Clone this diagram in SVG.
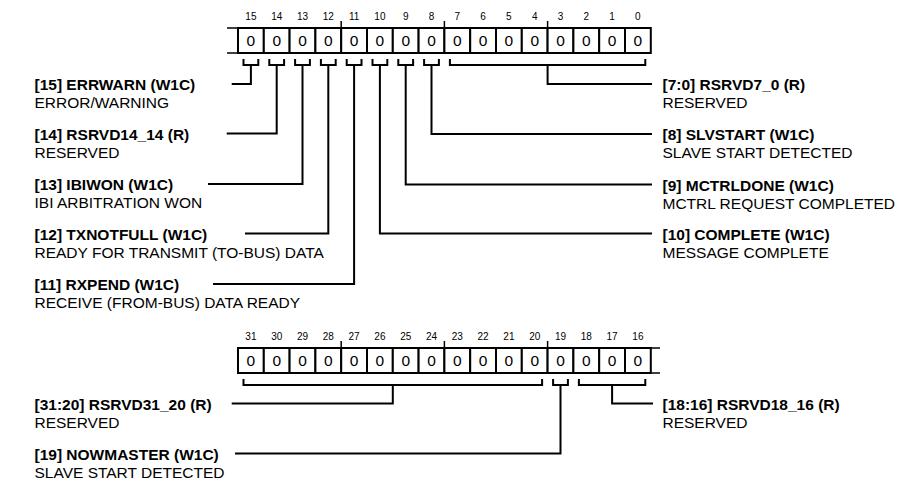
<svg xmlns="http://www.w3.org/2000/svg" width="898" height="481" viewBox="0 0 898 481">
<style>
  .bg{fill:#fff}
  .bit{fill:#fff;stroke:#000;stroke-width:2}
  .stub{stroke:#000;stroke-width:1.5;fill:none}
  .tick{stroke:#000;stroke-width:1.5}
  .val{font-family:"Liberation Sans",Arial,sans-serif;font-size:15.5px;text-anchor:middle;fill:#000}
  .num{font-family:"Liberation Sans",Arial,sans-serif;font-size:10px;text-anchor:middle;fill:#000}
  .b{font-family:"Liberation Sans",Arial,sans-serif;font-size:15.5px;font-weight:bold;fill:#000}
  .r{font-family:"Liberation Sans",Arial,sans-serif;font-size:15.5px;fill:#000}
  .c{stroke:#000;stroke-width:2;fill:none}
</style>
<defs>
  <g id="cell"><rect class="bit" x="0" y="0" width="25.8" height="25"/><text class="val" x="12.9" y="18">0</text></g>
</defs>
<rect class="bg" x="0" y="0" width="898" height="481"/>

<g id="reg_top">
  <line class="stub" x1="227" y1="28" x2="238" y2="28"/>
  <line class="stub" x1="227" y1="53" x2="238" y2="53"/>
  <line class="tick" x1="341.2" y1="21" x2="341.2" y2="28"/>
  <line class="tick" x1="444.4" y1="21" x2="444.4" y2="28"/>
  <line class="tick" x1="547.6" y1="21" x2="547.6" y2="28"/>
  <g transform="translate(238,28)"><use href="#cell"/></g>
  <g transform="translate(263.8,28)"><use href="#cell"/></g>
  <g transform="translate(289.6,28)"><use href="#cell"/></g>
  <g transform="translate(315.4,28)"><use href="#cell"/></g>
  <g transform="translate(341.2,28)"><use href="#cell"/></g>
  <g transform="translate(367,28)"><use href="#cell"/></g>
  <g transform="translate(392.8,28)"><use href="#cell"/></g>
  <g transform="translate(418.6,28)"><use href="#cell"/></g>
  <g transform="translate(444.4,28)"><use href="#cell"/></g>
  <g transform="translate(470.2,28)"><use href="#cell"/></g>
  <g transform="translate(496,28)"><use href="#cell"/></g>
  <g transform="translate(521.8,28)"><use href="#cell"/></g>
  <g transform="translate(547.6,28)"><use href="#cell"/></g>
  <g transform="translate(573.4,28)"><use href="#cell"/></g>
  <g transform="translate(599.2,28)"><use href="#cell"/></g>
  <g transform="translate(625,28)"><use href="#cell"/></g>
  <text class="num" x="250.9" y="20">15</text>
  <text class="num" x="276.7" y="20">14</text>
  <text class="num" x="302.5" y="20">13</text>
  <text class="num" x="328.3" y="20">12</text>
  <text class="num" x="354.1" y="20">11</text>
  <text class="num" x="379.9" y="20">10</text>
  <text class="num" x="405.7" y="20">9</text>
  <text class="num" x="431.5" y="20">8</text>
  <text class="num" x="457.3" y="20">7</text>
  <text class="num" x="483.1" y="20">6</text>
  <text class="num" x="508.9" y="20">5</text>
  <text class="num" x="534.7" y="20">4</text>
  <text class="num" x="560.5" y="20">3</text>
  <text class="num" x="586.3" y="20">2</text>
  <text class="num" x="612.1" y="20">1</text>
  <text class="num" x="637.9" y="20">0</text>
</g>

<g id="reg_bottom">
  <line class="stub" x1="650.8" y1="348" x2="660" y2="348"/>
  <line class="stub" x1="650.8" y1="373" x2="660" y2="373"/>
  <line class="tick" x1="341.2" y1="341" x2="341.2" y2="348"/>
  <line class="tick" x1="444.4" y1="341" x2="444.4" y2="348"/>
  <line class="tick" x1="547.6" y1="341" x2="547.6" y2="348"/>
  <g transform="translate(238,348)"><use href="#cell"/></g>
  <g transform="translate(263.8,348)"><use href="#cell"/></g>
  <g transform="translate(289.6,348)"><use href="#cell"/></g>
  <g transform="translate(315.4,348)"><use href="#cell"/></g>
  <g transform="translate(341.2,348)"><use href="#cell"/></g>
  <g transform="translate(367,348)"><use href="#cell"/></g>
  <g transform="translate(392.8,348)"><use href="#cell"/></g>
  <g transform="translate(418.6,348)"><use href="#cell"/></g>
  <g transform="translate(444.4,348)"><use href="#cell"/></g>
  <g transform="translate(470.2,348)"><use href="#cell"/></g>
  <g transform="translate(496,348)"><use href="#cell"/></g>
  <g transform="translate(521.8,348)"><use href="#cell"/></g>
  <g transform="translate(547.6,348)"><use href="#cell"/></g>
  <g transform="translate(573.4,348)"><use href="#cell"/></g>
  <g transform="translate(599.2,348)"><use href="#cell"/></g>
  <g transform="translate(625,348)"><use href="#cell"/></g>
  <text class="num" x="250.9" y="340">31</text>
  <text class="num" x="276.7" y="340">30</text>
  <text class="num" x="302.5" y="340">29</text>
  <text class="num" x="328.3" y="340">28</text>
  <text class="num" x="354.1" y="340">27</text>
  <text class="num" x="379.9" y="340">26</text>
  <text class="num" x="405.7" y="340">25</text>
  <text class="num" x="431.5" y="340">24</text>
  <text class="num" x="457.3" y="340">23</text>
  <text class="num" x="483.1" y="340">22</text>
  <text class="num" x="508.9" y="340">21</text>
  <text class="num" x="534.7" y="340">20</text>
  <text class="num" x="560.5" y="340">19</text>
  <text class="num" x="586.3" y="340">18</text>
  <text class="num" x="612.1" y="340">17</text>
  <text class="num" x="637.9" y="340">16</text>
</g>

<g id="connectors">
  <path class="c" d="M243.5,59 V65 H258.3 V59 M250.9,65 V84 H231.7"/>
  <path class="c" d="M269.3,59 V65 H284.1 V59 M276.7,65 V133.5 H226.7"/>
  <path class="c" d="M295.1,59 V65 H309.9 V59 M302.5,65 V184 H208"/>
  <path class="c" d="M320.9,59 V65 H335.7 V59 M328.3,65 V233.5 H245"/>
  <path class="c" d="M346.7,59 V65 H361.5 V59 M354.1,65 V284 H213"/>
  <path class="c" d="M372.5,59 V65 H387.3 V59 M379.9,65 V233.5 H652"/>
  <path class="c" d="M398.3,59 V65 H413.1 V59 M405.7,65 V184.5 H652"/>
  <path class="c" d="M424.1,59 V65 H438.9 V59 M431.5,65 V134 H652"/>
  <path class="c" d="M449.9,59 V65 H645.3 V59 M547.6,65 V84 H652"/>
  <path class="c" d="M243.5,379 V385 H542.1 V379 M392.8,385 V403.5 H231.7"/>
  <path class="c" d="M553.1,379 V385 H567.9 V379 M560.5,385 V453.5 H235"/>
  <path class="c" d="M578.9,379 V385 H645.3 V379 M612.1,385 V403.5 H653"/>
</g>

<g id="f15"><text class="b" x="34.5" y="90">[15] ERRWARN (W1C)</text><text class="r" x="34.5" y="108">ERROR/WARNING</text></g>
<g id="f14"><text class="b" x="34.5" y="139.5">[14] RSRVD14_14 (R)</text><text class="r" x="34.5" y="157.5">RESERVED</text></g>
<g id="f13"><text class="b" x="34.5" y="190">[13] IBIWON (W1C)</text><text class="r" x="34.5" y="208">IBI ARBITRATION WON</text></g>
<g id="f12"><text class="b" x="34.5" y="240">[12] TXNOTFULL (W1C)</text><text class="r" x="34.5" y="258">READY FOR TRANSMIT (TO-BUS) DATA</text></g>
<g id="f11"><text class="b" x="34.5" y="290">[11] RXPEND (W1C)</text><text class="r" x="34.5" y="308">RECEIVE (FROM-BUS) DATA READY</text></g>
<g id="f7_0"><text class="b" x="662.5" y="90">[7:0] RSRVD7_0 (R)</text><text class="r" x="662.5" y="108">RESERVED</text></g>
<g id="f8"><text class="b" x="662.5" y="140">[8] SLVSTART (W1C)</text><text class="r" x="662.5" y="158">SLAVE START DETECTED</text></g>
<g id="f9"><text class="b" x="662.5" y="190.5">[9] MCTRLDONE (W1C)</text><text class="r" x="662.5" y="208.5">MCTRL REQUEST COMPLETED</text></g>
<g id="f10"><text class="b" x="662.5" y="240">[10] COMPLETE (W1C)</text><text class="r" x="662.5" y="258">MESSAGE COMPLETE</text></g>
<g id="f31_20"><text class="b" x="34.5" y="409.5">[31:20] RSRVD31_20 (R)</text><text class="r" x="34.5" y="427.5">RESERVED</text></g>
<g id="f19"><text class="b" x="34.5" y="459.5">[19] NOWMASTER (W1C)</text><text class="r" x="34.5" y="477.5">SLAVE START DETECTED</text></g>
<g id="f18_16"><text class="b" x="662.5" y="409.5">[18:16] RSRVD18_16 (R)</text><text class="r" x="662.5" y="427.5">RESERVED</text></g>
</svg>
